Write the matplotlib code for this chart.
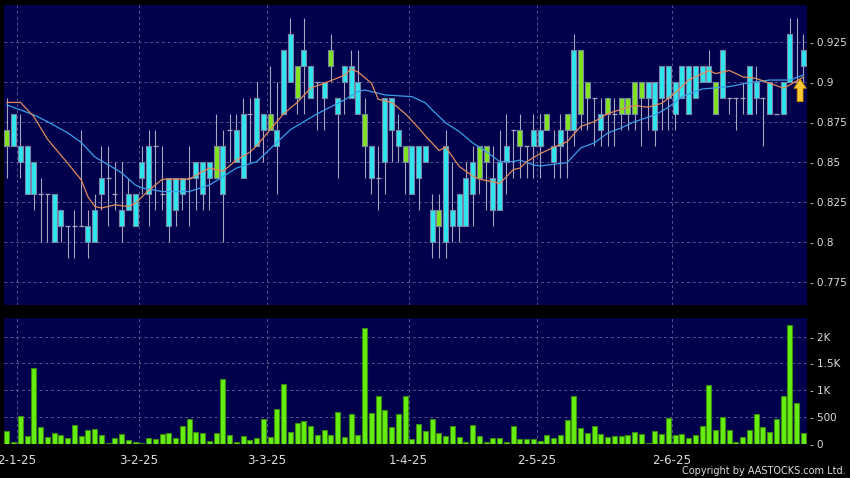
import matplotlib
matplotlib.use("Agg")
import matplotlib.pyplot as plt
import numpy as np

# daily candles
opens = [0.86, 0.88, 0.86, 0.86, 0.85, 0.83, 0.83, 0.83, 0.82, 0.81,
         0.81, 0.81, 0.81, 0.82, 0.84, 0.84, 0.83, 0.82, 0.83, 0.83,
         0.85, 0.86, 0.86, 0.83, 0.84, 0.84, 0.84, 0.84, 0.85, 0.85,
         0.85, 0.84, 0.86, 0.87, 0.87, 0.88, 0.88, 0.89, 0.88, 0.87,
         0.87, 0.92, 0.93, 0.89, 0.92, 0.91, 0.90, 0.90, 0.91, 0.89,
         0.91, 0.91, 0.90, 0.86, 0.86, 0.84, 0.89, 0.89, 0.87, 0.85,
         0.86, 0.86, 0.86, 0.82, 0.81, 0.86, 0.82, 0.83, 0.84, 0.85,
         0.84, 0.85, 0.84, 0.85, 0.86, 0.87, 0.86, 0.86, 0.87, 0.87,
         0.87, 0.86, 0.87, 0.87, 0.92, 0.88, 0.89, 0.89, 0.88, 0.88,
         0.88, 0.88, 0.88, 0.88, 0.89, 0.90, 0.90, 0.91, 0.91, 0.90,
         0.91, 0.91, 0.91, 0.91, 0.91, 0.88, 0.92, 0.89, 0.89, 0.89,
         0.91, 0.90, 0.89, 0.90, 0.88, 0.90, 0.93, 0.90, 0.92]
closes = [0.87, 0.86, 0.85, 0.83, 0.83, 0.83, 0.83, 0.80, 0.81, 0.81,
          0.81, 0.81, 0.80, 0.80, 0.83, 0.84, 0.83, 0.81, 0.82, 0.81,
          0.84, 0.83, 0.86, 0.83, 0.81, 0.82, 0.83, 0.84, 0.84, 0.83,
          0.84, 0.86, 0.83, 0.87, 0.85, 0.84, 0.88, 0.86, 0.87, 0.88,
          0.86, 0.88, 0.90, 0.91, 0.91, 0.89, 0.90, 0.89, 0.92, 0.88,
          0.90, 0.89, 0.88, 0.88, 0.84, 0.84, 0.85, 0.87, 0.86, 0.86,
          0.83, 0.84, 0.85, 0.80, 0.82, 0.80, 0.81, 0.81, 0.81, 0.83,
          0.86, 0.86, 0.82, 0.82, 0.85, 0.87, 0.87, 0.86, 0.86, 0.86,
          0.88, 0.85, 0.86, 0.88, 0.87, 0.92, 0.90, 0.89, 0.87, 0.89,
          0.88, 0.89, 0.89, 0.90, 0.90, 0.89, 0.87, 0.89, 0.89, 0.88,
          0.89, 0.88, 0.89, 0.90, 0.90, 0.90, 0.89, 0.89, 0.89, 0.89,
          0.88, 0.89, 0.89, 0.88, 0.88, 0.88, 0.90, 0.90, 0.91]
highs = [0.89, 0.88, 0.88, 0.86, 0.85, 0.84, 0.83, 0.83, 0.82, 0.81,
         0.82, 0.87, 0.82, 0.83, 0.86, 0.86, 0.85, 0.85, 0.84, 0.83,
         0.86, 0.87, 0.87, 0.86, 0.84, 0.84, 0.84, 0.86, 0.85, 0.85,
         0.85, 0.88, 0.87, 0.88, 0.88, 0.89, 0.89, 0.90, 0.88, 0.91,
         0.90, 0.92, 0.94, 0.91, 0.94, 0.91, 0.90, 0.90, 0.93, 0.89,
         0.91, 0.92, 0.92, 0.89, 0.86, 0.86, 0.89, 0.89, 0.88, 0.86,
         0.86, 0.86, 0.86, 0.83, 0.83, 0.87, 0.85, 0.83, 0.85, 0.86,
         0.86, 0.86, 0.86, 0.87, 0.88, 0.87, 0.88, 0.86, 0.88, 0.88,
         0.88, 0.87, 0.88, 0.88, 0.93, 0.92, 0.90, 0.89, 0.89, 0.89,
         0.89, 0.89, 0.89, 0.90, 0.90, 0.90, 0.90, 0.91, 0.91, 0.90,
         0.91, 0.91, 0.91, 0.91, 0.92, 0.90, 0.92, 0.89, 0.89, 0.90,
         0.91, 0.91, 0.89, 0.90, 0.88, 0.90, 0.94, 0.94, 0.93]
lows = [0.84, 0.86, 0.84, 0.83, 0.82, 0.80, 0.80, 0.80, 0.80, 0.79,
        0.79, 0.81, 0.79, 0.80, 0.82, 0.81, 0.82, 0.80, 0.82, 0.81,
        0.83, 0.81, 0.82, 0.82, 0.80, 0.81, 0.82, 0.81, 0.82, 0.82,
        0.82, 0.84, 0.80, 0.85, 0.85, 0.84, 0.85, 0.86, 0.85, 0.87,
        0.83, 0.88, 0.90, 0.88, 0.88, 0.89, 0.87, 0.87, 0.90, 0.84,
        0.88, 0.89, 0.88, 0.84, 0.83, 0.82, 0.83, 0.85, 0.85, 0.83,
        0.83, 0.82, 0.85, 0.79, 0.79, 0.79, 0.80, 0.80, 0.81, 0.81,
        0.83, 0.82, 0.81, 0.82, 0.83, 0.84, 0.84, 0.84, 0.84, 0.84,
        0.87, 0.84, 0.84, 0.84, 0.86, 0.87, 0.87, 0.86, 0.86, 0.86,
        0.86, 0.87, 0.87, 0.87, 0.86, 0.87, 0.86, 0.87, 0.87, 0.87,
        0.89, 0.88, 0.89, 0.90, 0.90, 0.88, 0.89, 0.88, 0.87, 0.88,
        0.88, 0.88, 0.86, 0.88, 0.88, 0.88, 0.90, 0.90, 0.90]
volume = [231, 30, 512, 137, 1419, 306, 131, 206, 150, 112,
          344, 137, 250, 269, 156, 10, 100, 169, 62, 31,
          5, 112, 87, 169, 194, 100, 325, 462, 212, 200,
          50, 200, 1200, 150, 30, 137, 62, 112, 456, 125,
          644, 1119, 219, 387, 431, 331, 162, 244, 162, 594,
          131, 556, 150, 2156, 575, 894, 619, 300, 562, 888,
          75, 369, 231, 450, 200, 137, 337, 125, 31, 356,
          137, 30, 100, 100, 37, 337, 75, 75, 75, 50,
          150, 112, 162, 437, 887, 287, 194, 331, 169, 125,
          144, 144, 162, 212, 187, 10, 225, 187, 475, 150,
          187, 112, 162, 319, 1100, 262, 494, 244, 30, 125,
          256, 556, 312, 212, 462, 887, 2225, 756, 206]

# moving averages as drawn on the chart (candle index -> value)
ma_fast_idx = [0, 2, 4, 6, 9, 11, 12, 13, 14, 16, 18, 19, 21, 23, 27, 29,
               30, 32, 34, 36, 37, 39, 41, 43, 45, 47, 50, 51, 52, 54, 55,
               57, 59, 61, 62, 64, 65, 67, 69, 70, 73, 74, 75, 76, 77, 79,
               81, 83, 85, 87, 89, 92, 93, 95, 97, 99, 101, 104, 105, 107,
               109, 111, 113, 115, 116, 118]
ma_fast = [0.887, 0.887, 0.878, 0.864, 0.849, 0.8386, 0.828, 0.822, 0.821,
           0.823, 0.822, 0.824, 0.832, 0.839, 0.839, 0.8438, 0.846, 0.844,
           0.851, 0.856, 0.86, 0.87, 0.88, 0.887, 0.896, 0.899, 0.904,
           0.908, 0.906, 0.899, 0.889, 0.887, 0.88, 0.871, 0.866, 0.857,
           0.859, 0.847, 0.841, 0.839, 0.8365, 0.8406, 0.845, 0.846, 0.85,
           0.855, 0.859, 0.8625, 0.872, 0.875, 0.88, 0.884, 0.885, 0.884,
           0.8865, 0.893, 0.901, 0.907, 0.905, 0.907, 0.903, 0.902, 0.899,
           0.896, 0.898, 0.903]
ma_slow_idx = [0, 2, 4, 6, 9, 11, 13, 15, 17, 19, 20, 23, 27, 30, 32, 34,
               37, 38, 42, 46, 50, 52, 53, 56, 60, 62, 63, 65, 67, 69, 71,
               73, 75, 76, 78, 79, 83, 85, 87, 89, 91, 93, 96, 98, 100, 102,
               103, 107, 110, 113, 116, 118]
ma_slow = [0.8854, 0.8823, 0.8792, 0.875, 0.868, 0.862, 0.853, 0.848, 0.843,
           0.8354, 0.8336, 0.8313, 0.8313, 0.8354, 0.8406, 0.846, 0.85,
           0.854, 0.87, 0.88, 0.8886, 0.8938, 0.8948, 0.8917, 0.8906,
           0.8867, 0.8823, 0.8742, 0.8688, 0.8617, 0.8563, 0.85, 0.85,
           0.851, 0.8479, 0.8473, 0.8494, 0.8586, 0.8617, 0.8679, 0.8711,
           0.875, 0.8792, 0.884, 0.8906, 0.8938, 0.8954, 0.8969, 0.8994,
           0.901, 0.901, 0.9042]

date_labels = ["2-1-25", "3-2-25", "3-3-25", "1-4-25", "2-5-25", "2-6-25"]
date_candles = [2, 20, 39, 60, 79, 99]

price_ticks = [0.775, 0.8, 0.825, 0.85, 0.875, 0.9, 0.925]
volume_ticks = [0, 500, 1000, 1500, 2000]
volume_labels = ["0", "500", "1K", "1.5K", "2K"]

# colours
BG = "black"
PANEL = "#00004c"
GRID = "#55558c"
CYAN = "#2ee6ef"
GREEN = "#82e41e"
EDGE = "#7b86a6"
WICK = "#a6a6be"
VOL = "#66ee11"
VOL_EDGE = "#3a8a12"
MA_FAST = "#e08c5a"
MA_SLOW = "#3a9fe6"
TEXT = "#dcdcdc"


def style_axes(ax, ticks, labels):
    ax.set_facecolor(PANEL)
    for sp in ax.spines.values():
        sp.set_visible(False)
    ax.set_axisbelow(True)
    ax.grid(True, color = GRID, lw = 0.7, ls = (0, (3, 3)))
    ax.yaxis.tick_right()
    ax.set_yticks(ticks)
    ax.set_yticklabels(["- " + t for t in labels])
    ax.tick_params(axis = "y", length = 0, pad = 2,
                   labelsize = 7.5, labelcolor = TEXT)
    ax.set_xticks([d - 0.5 for d in date_candles])
    ax.tick_params(axis = "x", length = 0, pad = 7.5,
                   labelsize = 8.6, labelcolor = TEXT)
    ax.set_xlim(-0.44, 118.52)


def plot_candles(ax):
    x = np.arange(len(opens))
    o = np.array(opens)
    c = np.array(closes)
    down = c < o
    up = c > o
    flat = c == o

    ax.vlines(x, lows, highs, color = WICK, lw = 0.8, zorder = 2)
    ax.bar(x[down], (o - c)[down], bottom = c[down], width = 0.74,
           color = CYAN, edgecolor = EDGE, lw = 0.8, zorder = 3)
    ax.bar(x[up], (c - o)[up], bottom = o[up], width = 0.74,
           color = GREEN, edgecolor = EDGE, lw = 0.8, zorder = 3)
    ax.hlines(o[flat], x[flat] - 0.37, x[flat] + 0.37,
              color = WICK, lw = 0.9, zorder = 3)

    ax.plot(ma_slow_idx, ma_slow, color = MA_SLOW, lw = 0.9, zorder = 4)
    ax.plot(ma_fast_idx, ma_fast, color = MA_FAST, lw = 0.9, zorder = 4)

    # last-price marker
    ax.annotate("", xy = (117.5, 0.9015), xytext = (117.5, 0.8875),
                arrowprops = dict(
                    arrowstyle = "simple,head_width=0.9,head_length=0.65,tail_width=0.42",
                    fc = "#ffcc33", ec = "#d98a00", lw = 0.6,
                    shrinkA = 0, shrinkB = 0),
                zorder = 5)

    style_axes(ax, price_ticks, ["%g" % t for t in price_ticks])
    ax.set_xticklabels([])
    ax.set_ylim(0.7604, 0.9479)


def plot_volume(ax):
    x = np.arange(len(volume))
    ax.bar(x, volume, width = 0.74, color = VOL,
           edgecolor = VOL_EDGE, lw = 0.8, zorder = 3)
    style_axes(ax, volume_ticks, volume_labels)
    ax.set_xticklabels(date_labels)
    ax.set_ylim(0, 2362)


fig = plt.figure(figsize = (8.5, 4.78), dpi = 100, facecolor = BG)
ax_price = fig.add_axes([4 / 850, 173 / 478, 803 / 850, 300 / 478])
ax_vol = fig.add_axes([4 / 850, 34.5 / 478, 803 / 850, 126 / 478])

plot_candles(ax_price)
plot_volume(ax_vol)

fig.text(846 / 850, 7 / 478, "Copyright by AASTOCKS.com Ltd.",
         ha = "right", va = "center", fontsize = 7, color = TEXT)

fig.savefig("out.png", dpi = 100, facecolor = BG)
